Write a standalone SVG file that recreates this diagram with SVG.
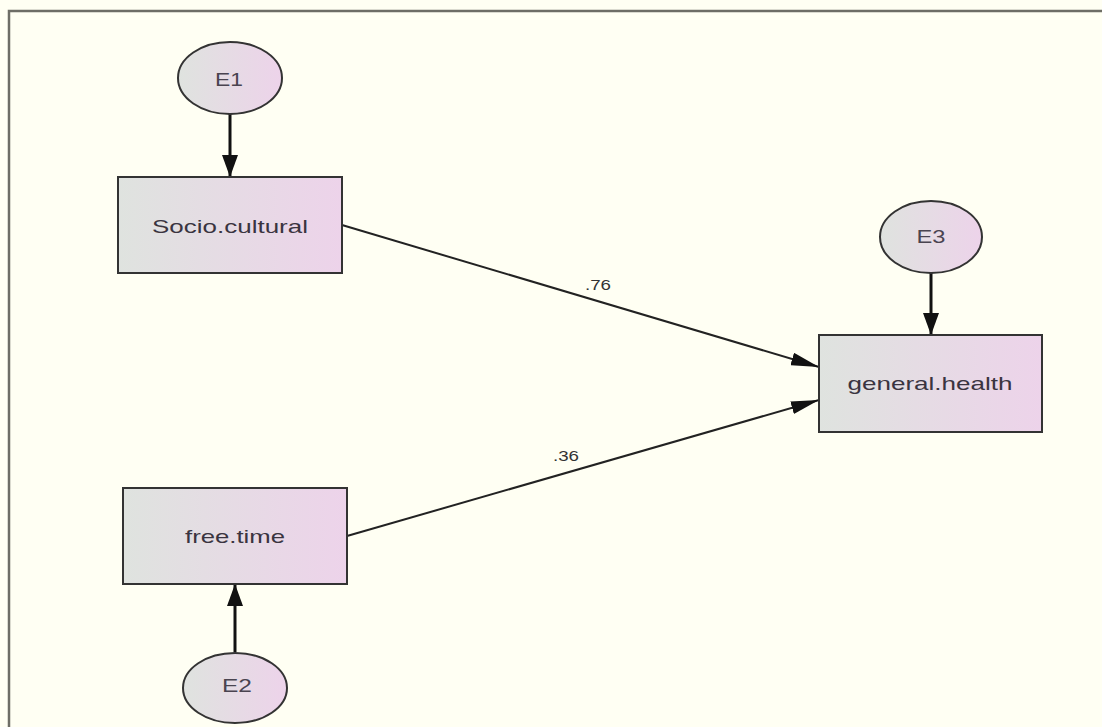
<svg xmlns="http://www.w3.org/2000/svg" width="1102" height="727" viewBox="0 0 1102 727">
<defs>
<linearGradient id="g" x1="0" y1="0" x2="1" y2="0">
<stop offset="0" stop-color="#dfe3df"/>
<stop offset="1" stop-color="#edd3ea"/>
</linearGradient>
<marker id="ahb" viewBox="0 0 10 10" refX="10" refY="5" markerWidth="22" markerHeight="16" markerUnits="userSpaceOnUse" orient="auto" preserveAspectRatio="none">
<path d="M0,0 L10,5 L0,10 z" fill="#111"/>
</marker>
<marker id="ahd" viewBox="0 0 10 10" refX="10" refY="5" markerWidth="28" markerHeight="13" markerUnits="userSpaceOnUse" orient="auto" preserveAspectRatio="none">
<path d="M0,0 L10,5 L0,10 z" fill="#111"/>
</marker>
</defs>
<style>
.box{fill:url(#g);stroke:#333;stroke-width:2}
.ell{fill:url(#g);stroke:#333;stroke-width:2}
.lbl{font-family:"Liberation Sans",Arial,sans-serif;font-size:19px;fill:#3a3440;text-anchor:middle}
.elbl{font-family:"Liberation Sans",Arial,sans-serif;font-size:18px;fill:#4a4450;text-anchor:middle}
.coef{font-family:"Liberation Sans",Arial,sans-serif;font-size:14px;fill:#333;text-anchor:middle}
.err{stroke:#111;stroke-width:3;fill:none}
.path{stroke:#222;stroke-width:2;fill:none}
</style>
<rect x="0" y="0" width="1102" height="727" fill="#fffff3"/>
<path d="M9,740 L9,11 L1110,11" fill="none" stroke="#6e6e66" stroke-width="2.5"/>
<g id="connectors">
<line class="err" x1="230" y1="114" x2="230" y2="177" marker-end="url(#ahb)"/>
<line class="err" x1="931" y1="273" x2="931" y2="335" marker-end="url(#ahb)"/>
<line class="err" x1="235" y1="652" x2="235" y2="584" marker-end="url(#ahb)"/>
<line class="path" x1="342" y1="225" x2="819" y2="367" marker-end="url(#ahd)"/>
<line class="path" x1="347" y1="536" x2="819" y2="400" marker-end="url(#ahd)"/>
<text class="coef" x="598" y="290" textLength="26" lengthAdjust="spacingAndGlyphs">.76</text>
<text class="coef" x="566" y="461" textLength="26" lengthAdjust="spacingAndGlyphs">.36</text>
</g>
<g id="E1">
<ellipse class="ell" cx="230" cy="78" rx="52" ry="36"/>
<text class="elbl" x="229" y="86" textLength="28" lengthAdjust="spacingAndGlyphs">E1</text>
</g>
<g id="Socio.cultural">
<rect class="box" x="118" y="177" width="224" height="96"/>
<text class="lbl" x="230" y="233" textLength="156" lengthAdjust="spacingAndGlyphs">Socio.cultural</text>
</g>
<g id="E3">
<ellipse class="ell" cx="931" cy="237" rx="51" ry="36"/>
<text class="elbl" x="931" y="243" textLength="29" lengthAdjust="spacingAndGlyphs">E3</text>
</g>
<g id="general.health">
<rect class="box" x="819" y="335" width="223" height="97"/>
<text class="lbl" x="930" y="390" textLength="165" lengthAdjust="spacingAndGlyphs">general.health</text>
</g>
<g id="free.time">
<rect class="box" x="123" y="488" width="224" height="96"/>
<text class="lbl" x="235" y="543" textLength="100" lengthAdjust="spacingAndGlyphs">free.time</text>
</g>
<g id="E2">
<ellipse class="ell" cx="235" cy="688" rx="52" ry="35"/>
<text class="elbl" x="237" y="692" textLength="30" lengthAdjust="spacingAndGlyphs">E2</text>
</g>
</svg>
